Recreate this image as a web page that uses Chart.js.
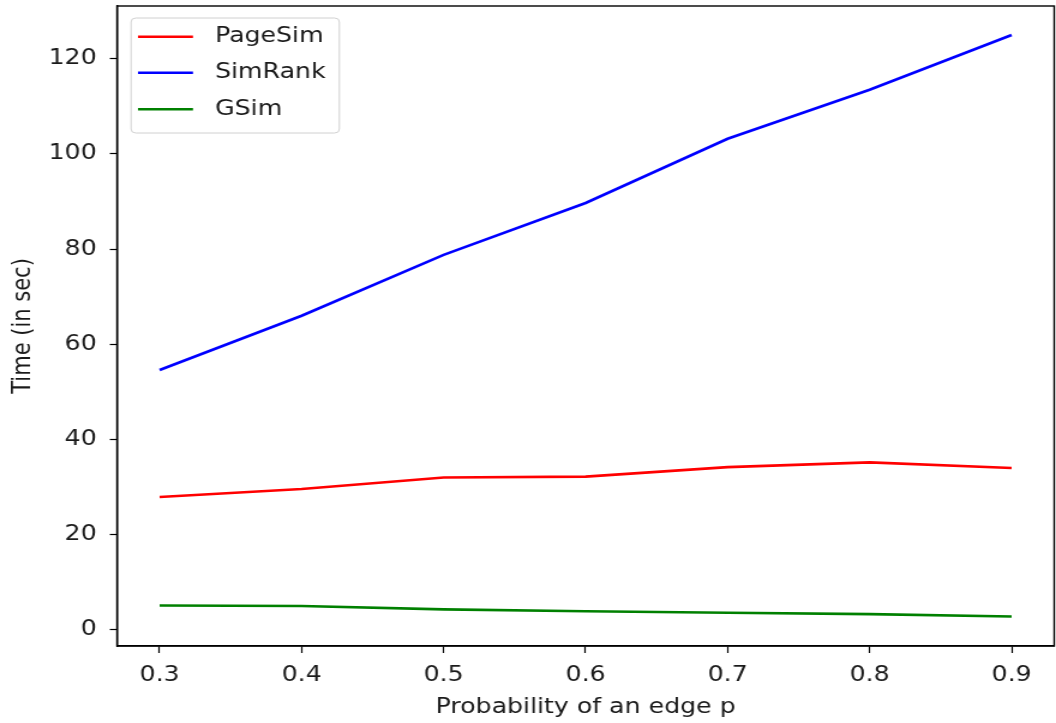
<!DOCTYPE html>
<html>
<head>
<meta charset="utf-8">
<script src="https://cdn.jsdelivr.net/npm/chart.js@4.4.1/dist/chart.umd.min.js"></script>
<style>
  html, body { margin: 0; padding: 0; background: #ffffff; overflow: hidden; }
  #wrap { width: 1056px; height: 723px; position: relative; }
  #c { position: absolute; left: 0; top: 0; transform: scaleX(1.2); transform-origin: 0 0; }
</style>
</head>
<body>
<div id="wrap"><canvas id="c" width="880" height="723"></canvas></div>
<script>
const xValues = [0.3, 0.4, 0.5, 0.6, 0.7, 0.8, 0.9];
const pageSim = [27.9, 29.6, 32.0, 32.2, 34.2, 35.2, 34.0];
const simRank = [54.6, 66.0, 78.8, 89.7, 103.2, 113.5, 125.0];
const gSim = [5.1, 5.0, 4.3, 3.9, 3.6, 3.3, 2.8];
const xTickValues = [0.3, 0.4, 0.5, 0.6, 0.7, 0.8, 0.9];
const yTickValues = [0, 20, 40, 60, 80, 100, 120];
const seriesNames = ['PageSim', 'SimRank', 'GSim'];
const xLabel = 'Probability of an edge p';
const yLabel = 'Time (in sec)';

Chart.defaults.font.family = "'DejaVu Sans', sans-serif";
Chart.defaults.font.size = 21;
Chart.defaults.color = '#1a1a1a';

const toPts = (vals) => vals.map((v, i) => ({ x: xValues[i], y: v }));

const framePlugin = {
  id: 'frame',
  afterDatasetsDraw(chart) {
    const { ctx, chartArea: a } = chart;
    ctx.save();
    ctx.strokeStyle = '#000';
    ctx.lineWidth = 1.4;
    ctx.strokeRect(a.left, a.top, a.right - a.left, a.bottom - a.top);
    ctx.restore();

    // legend inside the axes (upper left)
    const ds = chart.data.datasets;
    ctx.save();
    ctx.font = "21px 'DejaVu Sans'";
    let maxW = 0;
    ds.forEach(d => { maxW = Math.max(maxW, ctx.measureText(d.label).width); });
    const bx = a.left + 11.7, by = a.top + 12;
    const bw = 70 + maxW + 11.5, bh = 115;
    const r = 4;
    ctx.beginPath();
    ctx.moveTo(bx + r, by);
    ctx.lineTo(bx + bw - r, by);
    ctx.quadraticCurveTo(bx + bw, by, bx + bw, by + r);
    ctx.lineTo(bx + bw, by + bh - r);
    ctx.quadraticCurveTo(bx + bw, by + bh, bx + bw - r, by + bh);
    ctx.lineTo(bx + r, by + bh);
    ctx.quadraticCurveTo(bx, by + bh, bx, by + bh - r);
    ctx.lineTo(bx, by + r);
    ctx.quadraticCurveTo(bx, by, bx + r, by);
    ctx.closePath();
    ctx.fillStyle = 'rgba(255,255,255,0.8)';
    ctx.fill();
    ctx.strokeStyle = '#d0d0d0';
    ctx.lineWidth = 1;
    ctx.stroke();
    const rows = [30.7, 66.7, 103.3];
    ds.forEach((d, i) => {
      const y = a.top + rows[i];
      ctx.beginPath();
      ctx.strokeStyle = d.borderColor;
      ctx.lineWidth = 2.6;
      ctx.moveTo(a.left + 17.5, y);
      ctx.lineTo(a.left + 63.3, y);
      ctx.stroke();
      ctx.fillStyle = '#1a1a1a';
      ctx.textBaseline = 'middle';
      ctx.textAlign = 'left';
      ctx.fillText(d.label, a.left + 81.7, y);
    });
    ctx.restore();
  }
};

new Chart(document.getElementById('c'), {
  type: 'line',
  data: {
    datasets: [
      { label: seriesNames[0], data: toPts(pageSim), borderColor: '#ff0000', backgroundColor: '#ff0000' },
      { label: seriesNames[1], data: toPts(simRank), borderColor: '#0000ff', backgroundColor: '#0000ff' },
      { label: seriesNames[2], data: toPts(gSim), borderColor: '#008000', backgroundColor: '#008000' }
    ]
  },
  options: {
    responsive: false,
    animation: false,
    devicePixelRatio: 1,
    layout: { padding: { top: 6, right: 1.5, left: 0, bottom: 0 } },
    elements: {
      line: { borderWidth: 2.6, tension: 0, fill: false },
      point: { radius: 0, hoverRadius: 0 }
    },
    plugins: { legend: { display: false }, tooltip: { enabled: false } },
    scales: {
      x: {
        type: 'linear',
        min: 0.27,
        max: 0.93,
        afterBuildTicks: (s) => { s.ticks = xTickValues.map(v => ({ value: v })); },
        afterFit: (s) => { s.height = 77; s.paddingLeft = 0; s.paddingRight = 0; },
        ticks: { padding: 10, callback: (v) => v.toFixed(1), color: '#1a1a1a', font: { size: 21 } },
        grid: { drawOnChartArea: false, drawTicks: true, tickLength: 7, color: '#000', tickWidth: 1.2 },
        border: { display: true, color: '#000', width: 1.4 },
        title: { display: true, text: xLabel, color: '#1a1a1a', font: { size: 21 }, padding: { top: 0, bottom: 2.6 } }
      },
      y: {
        type: 'linear',
        min: -3.4,
        max: 131.1,
        afterBuildTicks: (s) => { s.ticks = yTickValues.map(v => ({ value: v })); },
        afterFit: (s) => { s.width = 97.5; s.paddingTop = 0; s.paddingBottom = 0; },
        ticks: { padding: 11, color: '#1a1a1a', font: { size: 21 } },
        grid: { drawOnChartArea: false, drawTicks: true, tickLength: 6, color: '#000', tickWidth: 1.2 },
        border: { display: true, color: '#000', width: 1.4 },
        title: { display: true, text: yLabel, color: '#1a1a1a', font: { size: 21 }, padding: { top: 6.5, bottom: 0 } }
      }
    }
  },
  plugins: [framePlugin]
});
</script>
</body>
</html>
